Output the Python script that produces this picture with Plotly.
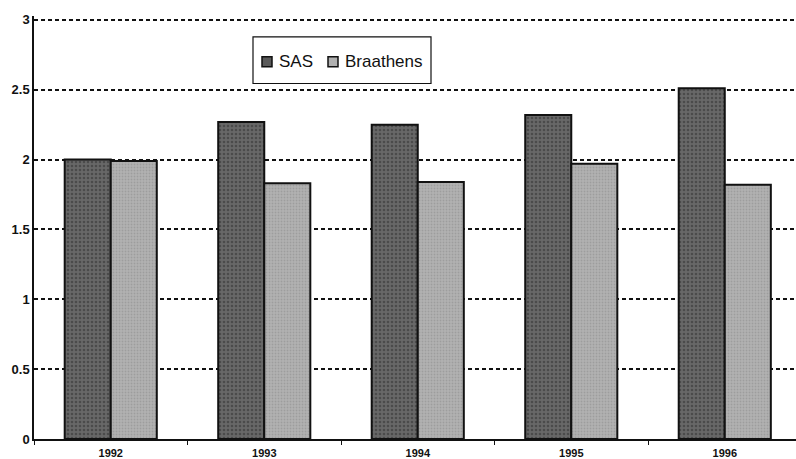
import plotly.graph_objects as go

# Data
years = ["1992", "1993", "1994", "1995", "1996"]
sas = [2.00, 2.27, 2.25, 2.32, 2.51]
braathens = [1.99, 1.83, 1.84, 1.97, 1.82]
y_ticks = [0, 0.5, 1, 1.5, 2, 2.5, 3]
y_tick_text = ["0", "0.5", "1", "1.5", "2", "2.5", "3"]
series_names = ["SAS", "Braathens"]

FONT = "Liberation Sans, Arial, sans-serif"
INK = "#111111"

# Plot area in pixels (figure is 796 x 459)
W, H = 796, 459
L, R, T, B = 34, 0, 16, 17
PW, PH = W - L - R, H - T - B
Y_MAX = 3.028


def px_x(x):
    return (x - L) / PW


def px_y(y):
    return (H - B - y) / PH


fig = go.Figure()
fig.add_trace(go.Bar(
    name=series_names[0], x=years, y=sas,
    marker=dict(
        color="#5e5e5e",
        line=dict(color=INK, width=2),
        pattern=dict(shape=".", fgcolor="#2e2e2e", bgcolor="#686868",
                     size=4, solidity=0.35, fillmode="overlay"),
    ),
    showlegend=False,
))
fig.add_trace(go.Bar(
    name=series_names[1], x=years, y=braathens,
    marker=dict(
        color="#aaaaaa",
        line=dict(color=INK, width=2),
        pattern=dict(shape=".", fgcolor="#888888", bgcolor="#b2b2b2",
                     size=3, solidity=0.3, fillmode="overlay"),
    ),
    showlegend=False,
))

# Boxed legend drawn in paper coordinates
shapes = [dict(type="rect", xref="paper", yref="paper",
               x0=px_x(253), x1=px_x(431), y0=px_y(84), y1=px_y(37),
               fillcolor="white", line=dict(color=INK, width=1.2), layer="above")]
annotations = []
legend_items = [(series_names[0], "#5a5a5a", 262), (series_names[1], "#b0b0b0", 328)]
for name, col, x0 in legend_items:
    shapes.append(dict(type="rect", xref="paper", yref="paper",
                       x0=px_x(x0), x1=px_x(x0 + 10), y0=px_y(67), y1=px_y(57),
                       fillcolor=col, line=dict(color=INK, width=1.5), layer="above"))
    annotations.append(dict(xref="paper", yref="paper", x=px_x(x0 + 15), y=px_y(62),
                            xanchor="left", yanchor="middle", showarrow=False,
                            text=name, font=dict(family=FONT, size=17, color=INK)))

fig.update_layout(
    width=W, height=H,
    margin=dict(l=L, r=R, t=T, b=B),
    paper_bgcolor="white", plot_bgcolor="white",
    barmode="group", bargap=0.4, bargroupgap=0,
    showlegend=False,
    shapes=shapes, annotations=annotations,
    font=dict(family=FONT, color=INK),
)

fig.update_xaxes(
    type="category",
    range=[-0.5, 4.464],
    showline=True, linecolor=INK, linewidth=1.5,
    ticks="outside", ticklen=4, tickcolor=INK, tickwidth=1,
    tickson="boundaries", ticklabelstandoff=3,
    tickfont=dict(family=FONT, size=11, weight="bold", color=INK),
    showgrid=False,
)
fig.update_yaxes(
    range=[0, Y_MAX],
    tickvals=y_ticks, ticktext=y_tick_text,
    showline=True, linecolor=INK, linewidth=1.5,
    ticks="",
    tickfont=dict(family=FONT, size=13, weight="bold", color=INK),
    showgrid=True, gridcolor=INK, gridwidth=1.5, griddash="4px,3px",
    zeroline=False,
)

fig.write_html("out.html")
